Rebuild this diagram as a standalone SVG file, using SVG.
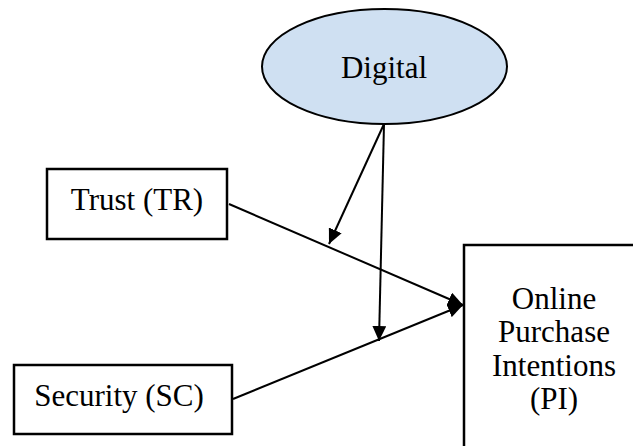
<svg xmlns="http://www.w3.org/2000/svg" width="633" height="446" viewBox="0 0 633 446">
<defs>
<style>
.box{fill:#fff;stroke:#000;stroke-width:2.5}
.ell{fill:#cfe0f2;stroke:#000;stroke-width:2}
.lbl{font-family:"Liberation Serif","Times New Roman",serif;font-size:31px;fill:#000;text-anchor:middle}
.con{stroke:#000;stroke-width:2;fill:none;marker-end:url(#ah)}
</style>
<marker id="ah" markerWidth="16" markerHeight="14" refX="15" refY="7" orient="auto" markerUnits="userSpaceOnUse">
<path d="M0,0 L15,7 L0,14 z" fill="#000"/>
</marker>
</defs>
<rect width="633" height="446" fill="#fff"/>
<g id="digital">
<ellipse class="ell" cx="384.5" cy="66.5" rx="122.5" ry="57.5"/>
<text class="lbl" x="384" y="78">Digital</text>
</g>
<g id="trust">
<rect class="box" x="47" y="169" width="180" height="70"/>
<text class="lbl" x="137" y="210">Trust (TR)</text>
</g>
<g id="security">
<rect class="box" x="14" y="365" width="218" height="69"/>
<text class="lbl" x="119" y="406">Security (SC)</text>
</g>
<g id="pi">
<rect class="box" x="464" y="245" width="220" height="240"/>
<text class="lbl" x="554" y="309">Online</text>
<text class="lbl" x="554" y="342">Purchase</text>
<text class="lbl" x="554" y="376">Intentions</text>
<text class="lbl" x="554" y="409">(PI)</text>
</g>
<g id="connectors">
<line class="con" x1="229" y1="204" x2="463" y2="305"/>
<line class="con" x1="233" y1="399" x2="463" y2="305"/>
<line class="con" x1="384" y1="124" x2="329" y2="244"/>
<line class="con" x1="384" y1="124" x2="379" y2="341"/>
</g>
</svg>
